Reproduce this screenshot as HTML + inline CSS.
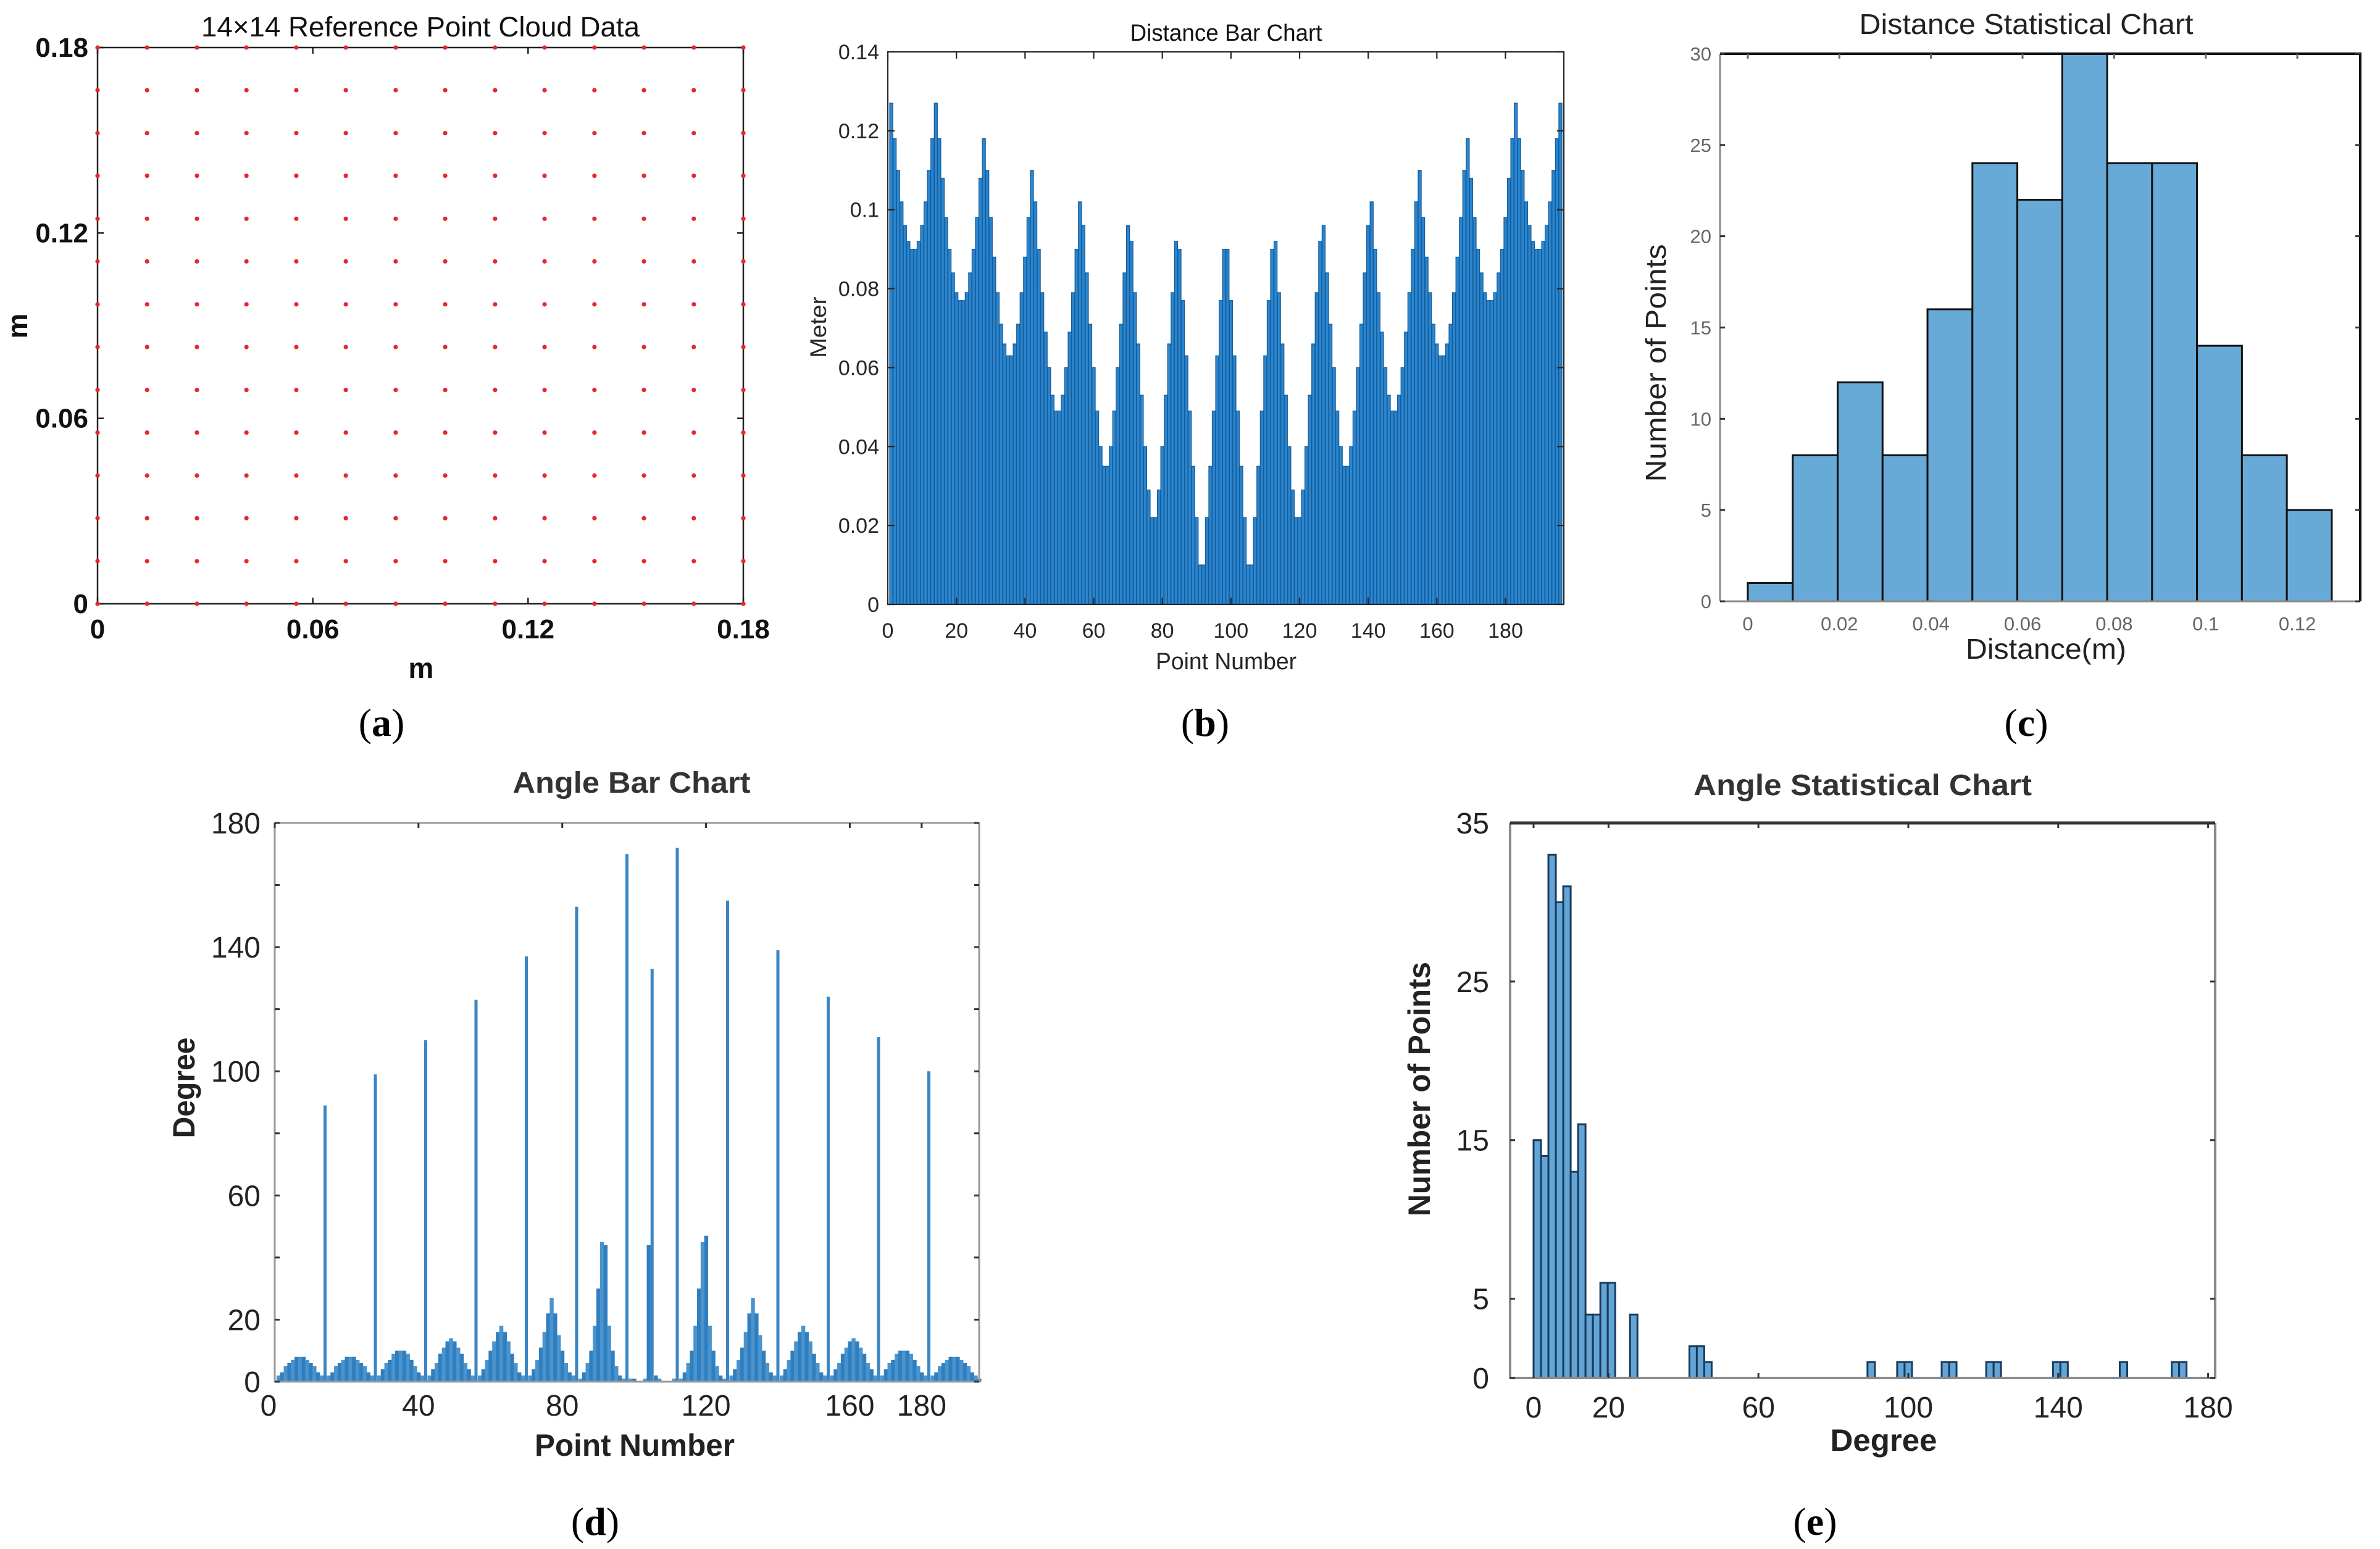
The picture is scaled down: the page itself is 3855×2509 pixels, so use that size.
<!DOCTYPE html>
<html><head><meta charset="utf-8"><style>
html,body{margin:0;padding:0;background:#fff;}
svg{display:block;}
text{font-family:"Liberation Sans",sans-serif;}
.pl{font-family:"Liberation Serif",serif;font-size:64px;fill:#000;}
</style></head><body>
<svg id="fig" width="3855" height="2509" viewBox="0 0 3855 2509" xmlns="http://www.w3.org/2000/svg">
<rect width="3855" height="2509" fill="#fff"/>
<text x="681" y="59" font-size="45" text-anchor="middle" textLength="710" lengthAdjust="spacingAndGlyphs" fill="#111">14×14 Reference Point Cloud Data</text>
<text x="682" y="1098" font-size="46" font-weight="bold" text-anchor="middle" fill="#111">m</text>
<text transform="translate(44,528) rotate(-90)" font-size="46" font-weight="bold" text-anchor="middle" fill="#111">m</text>
<text x="618" y="1192" class="pl" text-anchor="middle">(<tspan font-weight="bold">a</tspan>)</text>
<text x="1986" y="66" font-size="38" text-anchor="middle" textLength="311" lengthAdjust="spacingAndGlyphs" fill="#111">Distance Bar Chart</text>
<text x="1986" y="1084" font-size="38" text-anchor="middle" textLength="228" lengthAdjust="spacingAndGlyphs" fill="#262626">Point Number</text>
<text transform="translate(1338,530) rotate(-90)" font-size="37" text-anchor="middle" textLength="99" lengthAdjust="spacingAndGlyphs" fill="#262626">Meter</text>
<text x="1952" y="1192" class="pl" text-anchor="middle">(<tspan font-weight="bold">b</tspan>)</text>
<text x="3282" y="55" font-size="46" text-anchor="middle" textLength="541" lengthAdjust="spacingAndGlyphs" fill="#222">Distance Statistical Chart</text>
<text x="3314" y="1067" font-size="46" text-anchor="middle" textLength="260" lengthAdjust="spacingAndGlyphs" fill="#222">Distance(m)</text>
<text transform="translate(2698,588) rotate(-90)" font-size="46" text-anchor="middle" textLength="385" lengthAdjust="spacingAndGlyphs" fill="#222">Number of Points</text>
<text x="3282" y="1192" class="pl" text-anchor="middle">(<tspan font-weight="bold">c</tspan>)</text>
<text x="1023" y="1284" font-size="48" font-weight="bold" text-anchor="middle" textLength="385" lengthAdjust="spacingAndGlyphs" fill="#333">Angle Bar Chart</text>
<text x="1028" y="2358" font-size="50" font-weight="bold" text-anchor="middle" textLength="324" lengthAdjust="spacingAndGlyphs" fill="#222">Point Number</text>
<text transform="translate(315,1762) rotate(-90)" font-size="50" font-weight="bold" text-anchor="middle" textLength="163" lengthAdjust="spacingAndGlyphs" fill="#222">Degree</text>
<text x="964" y="2486" class="pl" text-anchor="middle">(<tspan font-weight="bold">d</tspan>)</text>
<text x="3017" y="1288" font-size="48" font-weight="bold" text-anchor="middle" textLength="548" lengthAdjust="spacingAndGlyphs" fill="#333">Angle Statistical Chart</text>
<text x="3051" y="2350" font-size="50" font-weight="bold" text-anchor="middle" textLength="173" lengthAdjust="spacingAndGlyphs" fill="#222">Degree</text>
<text transform="translate(2316,1764) rotate(-90)" font-size="50" font-weight="bold" text-anchor="middle" textLength="412" lengthAdjust="spacingAndGlyphs" fill="#222">Number of Points</text>
<text x="2940" y="2486" class="pl" text-anchor="middle">(<tspan font-weight="bold">e</tspan>)</text>
</svg>
<script>
const gridCoords = [0,0.0138,0.0277,0.0415,0.0554,0.0692,0.0831,0.0969,0.1108,0.1246,0.1385,0.1523,0.1662,0.18];
const aTicks = [0,0.06,0.12,0.18];
const aTickLabels = ["0","0.06","0.12","0.18"];

const distValues = [
.127,.118,.110,.102,.096,.092,.090,.090,.092,.096,.102,.110,.118,.127,
.118,.108,.098,.090,.084,.079,.077,.077,.079,.084,.090,.098,.108,.118,
.110,.098,.088,.079,.071,.066,.063,.063,.066,.071,.079,.088,.098,.110,
.102,.090,.079,.069,.060,.053,.049,.049,.053,.060,.069,.079,.090,.102,
.096,.084,.071,.060,.049,.040,.035,.035,.040,.049,.060,.071,.084,.096,
.092,.079,.066,.053,.040,.029,.022,.022,.029,.040,.053,.066,.079,.092,
.090,.077,.063,.049,.035,.022,.010,.010,.022,.035,.049,.063,.077,.090,
.090,.077,.063,.049,.035,.022,.010,.010,.022,.035,.049,.063,.077,.090,
.092,.079,.066,.053,.040,.029,.022,.022,.029,.040,.053,.066,.079,.092,
.096,.084,.071,.060,.049,.040,.035,.035,.040,.049,.060,.071,.084,.096,
.102,.090,.079,.069,.060,.053,.049,.049,.053,.060,.069,.079,.090,.102,
.110,.098,.088,.079,.071,.066,.063,.063,.066,.071,.079,.088,.098,.110,
.118,.108,.098,.090,.084,.079,.077,.077,.079,.084,.090,.098,.108,.118,
.127,.118,.110,.102,.096,.092,.090,.090,.092,.096,.102,.110,.118,.127];
const bYTicks = [0,0.02,0.04,0.06,0.08,0.1,0.12,0.14];
const bYLabels = ["0","0.02","0.04","0.06","0.08","0.1","0.12","0.14"];
const bXTicks = [0,20,40,60,80,100,120,140,160,180];

const distBinStarts = [0,0.00981,0.01962,0.02943,0.03924,0.04905,0.05886,0.06867,0.07848,0.08829,0.0981,0.10791,0.11772];
const distCounts = [1,8,12,8,16,24,22,30,24,24,14,8,5];
const cYTicks = [0,5,10,15,20,25,30];
const cXTicks = [0,0.02,0.04,0.06,0.08,0.1,0.12];
const cXLabels = ["0","0.02","0.04","0.06","0.08","0.1","0.12"];

const angleValues = [
2,3,5,6,7,8,8,8,7,6,5,3,2,89,
2,3,5,6,7,8,8,8,7,6,5,3,2,99,
2,4,6,7,9,10,10,10,9,7,5,3,2,110,
2,4,6,9,11,13,14,13,11,9,6,4,2,123,
2,4,7,10,13,16,18,16,13,9,6,3,2,137,
2,4,7,11,16,22,27,22,15,10,6,3,2,153,
1,3,6,10,18,30,45,44,18,10,5,2,1,170,
1,1,0,0,1,44,133,2,1,0,0,0,1,172,
1,3,6,10,18,30,45,47,18,10,5,2,1,155,
2,4,7,11,16,22,27,22,15,10,6,3,2,139,
2,4,7,10,13,16,18,16,13,9,6,3,2,124,
2,4,6,9,11,13,14,13,11,9,6,4,2,111,
2,4,6,7,9,10,10,10,9,7,5,3,2,100,
2,3,5,6,7,8,8,8,7,6,5,3,2,1];
const dYTicks = [0,20,40,60,80,100,120,140,160,180];
const dYLabels = ["0","20","","60","","100","","140","","180"];
const dXTicks = [0,40,80,120,160,180];

const angleBinIdx = [0,1,2,3,4,5,6,7,8,9,10,13,21,22,23,45,49,50,55,56,61,62,70,71,79,86,87];
const angleCounts = [15,14,33,30,31,13,16,4,4,6,6,4,2,2,1,1,1,1,1,1,1,1,1,1,1,1,1];
const angleBinWidth = 1.98;
const eYTicks = [0,5,15,25,35];
const eXTicks = [0,20,60,100,140,180];

const NS='http://www.w3.org/2000/svg';
const svg=document.getElementById('fig');
function mk(tag,attrs,parent){const e=document.createElementNS(NS,tag);for(const k in attrs)e.setAttribute(k,attrs[k]);(parent||svg).appendChild(e);return e;}
function grp(name){const g=mk('g',{});


return g;}

(function(){
const L=158,R=1204,T=77,B=978;
const xa=v=>L+v/0.18*(R-L), ya=v=>B-v/0.18*(B-T);
const g=grp('scatter-plot-a');
const box=mk('rect',{x:L,y:T,width:R-L,height:B-T,fill:'none',stroke:'#222','stroke-width':2.5},g);


aTicks.forEach((t,i)=>{
 const tx=mk('path',{d:`M${xa(t)},${B}v-10M${xa(t)},${T}v10M${L},${ya(t)}h10M${R},${ya(t)}h-10`,stroke:'#222','stroke-width':2.5},g);
 
 
 const xl=mk('text',{x:xa(t),y:1034,'font-size':44,'font-weight':'bold','text-anchor':'middle',fill:'#111'},g);
 xl.textContent=aTickLabels[i];
 
 
 const yl=mk('text',{x:143,y:ya(t)+15,'font-size':44,'font-weight':'bold','text-anchor':'end',fill:'#111'},g);
 yl.textContent=aTickLabels[i];
 
 
});
gridCoords.forEach(yv=>gridCoords.forEach(xv=>{
 const c=mk('circle',{cx:xa(xv),cy:ya(yv),r:3.6,fill:'#e8262e'},g);
 
 
}));
})();

(function(){
const L=1438,R=2533,T=84,B=979,XM=197;
const xb=v=>L+v/XM*(R-L), yb=v=>B-v/0.14*(B-T);
const g=grp('distance-bar-chart');
const uw=(R-L)/XM;
distValues.forEach((v,i)=>{
 const r=mk('rect',{x:xb(i+1)-uw*0.45,y:yb(v),width:uw*0.9,height:B-yb(v),fill:'#2a86cf',stroke:'#165d9c','stroke-width':1.3},g);
 
 
});
const box=mk('rect',{x:L,y:T,width:R-L,height:B-T,fill:'none',stroke:'#262626','stroke-width':2.2},g);


bYTicks.forEach((t,i)=>{
 const tk=mk('path',{d:`M${L},${yb(t)}h11M${R},${yb(t)}h-11`,stroke:'#262626','stroke-width':2.2},g);
 
 
 const yl=mk('text',{x:1424,y:yb(t)+12,'font-size':34,'text-anchor':'end',fill:'#262626'},g);
 yl.textContent=bYLabels[i];
 
 
});
bXTicks.forEach(t=>{
 const tk=mk('path',{d:`M${xb(t)},${B}v-11M${xb(t)},${T}v11`,stroke:'#262626','stroke-width':2.2},g);
 
 
 const xl=mk('text',{x:xb(t),y:1033,'font-size':34,'text-anchor':'middle',fill:'#262626'},g);
 xl.textContent=String(t);
 
 
});
})();

(function(){
const L=2786,R=3823,T=87,B=974;
const xc=v=>2831+v*7417, yc=v=>B-v/30*(B-T);
const g=grp('distance-histogram');
distCounts.forEach((c,i)=>{
 const x0=xc(distBinStarts[i]), x1=xc(distBinStarts[i]+0.00981);
 const r=mk('rect',{x:x0,y:yc(c),width:x1-x0,height:B-yc(c),fill:'#67aad8',stroke:'#111','stroke-width':3},g);
 
 
});
const fr=mk('path',{d:`M${L},${B}V${T}M${L},${B}H${R}`,stroke:'#888',fill:'none','stroke-width':3},g);


const fr2=mk('path',{d:`M${L},${T}H${R}V${B}`,stroke:'#111',fill:'none','stroke-width':4},g);


cYTicks.forEach(t=>{
 const tk=mk('path',{d:`M${R},${yc(t)}h-8M${L},${yc(t)}h8`,stroke:'#333','stroke-width':3},g);
 
 
 const yl=mk('text',{x:2772,y:yc(t)+11,'font-size':31,'text-anchor':'end',fill:'#666'},g);
 yl.textContent=String(t);
 
 
});
cXTicks.forEach((t,i)=>{
 const tk=mk('path',{d:`M${xc(t)},${T}v8`,stroke:'#666','stroke-width':3},g);
 
 
 const xl=mk('text',{x:xc(t),y:1021,'font-size':31,'text-anchor':'middle',fill:'#666'},g);
 xl.textContent=cXLabels[i];
 
 
});
})();

(function(){
const L=445,R=1586,T=1333,B=2238,XM=196;
const xd=v=>L+v/XM*(R-L), yd=v=>B-v/180*(B-T);
const g=grp('angle-bar-chart');
const uw=(R-L)/XM;
angleValues.forEach((v,i)=>{
 const big=v>60;
 const r=mk('rect',{x:xd(i+1)-(big?2.5:uw*0.5),y:yd(v),width:big?5:uw+0.6,height:B-yd(v),fill:big?'#3a86c4':(i%2?'#2f7fc0':'#4a93cc')},g);
 
 
});
const box=mk('rect',{x:L,y:T,width:R-L,height:B-T,fill:'none',stroke:'#9a9a9a','stroke-width':3},g);


dYTicks.forEach((t,i)=>{
 const tk=mk('path',{d:`M${L},${yd(t)}h8M${R},${yd(t)}h-8`,stroke:'#333','stroke-width':3},g);
 
 
 if(dYLabels[i]){
 const yl=mk('text',{x:422,y:yd(t)+17,'font-size':48,'text-anchor':'end',fill:'#222'},g);
 yl.textContent=dYLabels[i];
 
 
 }
});
dXTicks.forEach(t=>{
 const tk=mk('path',{d:`M${xd(t)},${T}v8`,stroke:'#333','stroke-width':3},g);
 
 
 const xl=mk('text',{x:t===0?xd(t)-10:xd(t),y:2293,'font-size':48,'text-anchor':'middle',fill:'#222'},g);
 xl.textContent=String(t);
 
 
});
})();

(function(){
const L=2446,R=3588,T=1333,B=2232;
const xe=v=>2484+v*6.07, ye=v=>B-v/35*(B-T);
const g=grp('angle-histogram');
angleBinIdx.forEach((bi,i)=>{
 const x0=xe(bi*angleBinWidth), x1=xe((bi+1)*angleBinWidth);
 const r=mk('rect',{x:x0,y:ye(angleCounts[i]),width:x1-x0,height:B-ye(angleCounts[i]),fill:'#62a5d6',stroke:'#1b3b5c','stroke-width':3},g);
 
 
});
const fr=mk('path',{d:`M${L},${T}V${B}H${R}V${T}`,stroke:'#8a8a8a',fill:'none','stroke-width':4},g);


const top=mk('path',{d:`M${L},${T}H${R}`,stroke:'#333',fill:'none','stroke-width':5},g);


eYTicks.forEach(t=>{
 const tk=mk('path',{d:`M${L},${ye(t)}h8M${R},${ye(t)}h-8`,stroke:'#333','stroke-width':3},g);
 
 
 const yl=mk('text',{x:2412,y:ye(t)+17,'font-size':48,'text-anchor':'end',fill:'#222'},g);
 yl.textContent=String(t);
 
 
});
eXTicks.forEach(t=>{
 const tk=mk('path',{d:`M${xe(t)},${T}v8M${xe(t)},${B}v-8`,stroke:'#333','stroke-width':3},g);
 
 
 const xl=mk('text',{x:xe(t),y:2296,'font-size':48,'text-anchor':'middle',fill:'#222'},g);
 xl.textContent=String(t);
 
 
});
})();
</script>
</body></html>
